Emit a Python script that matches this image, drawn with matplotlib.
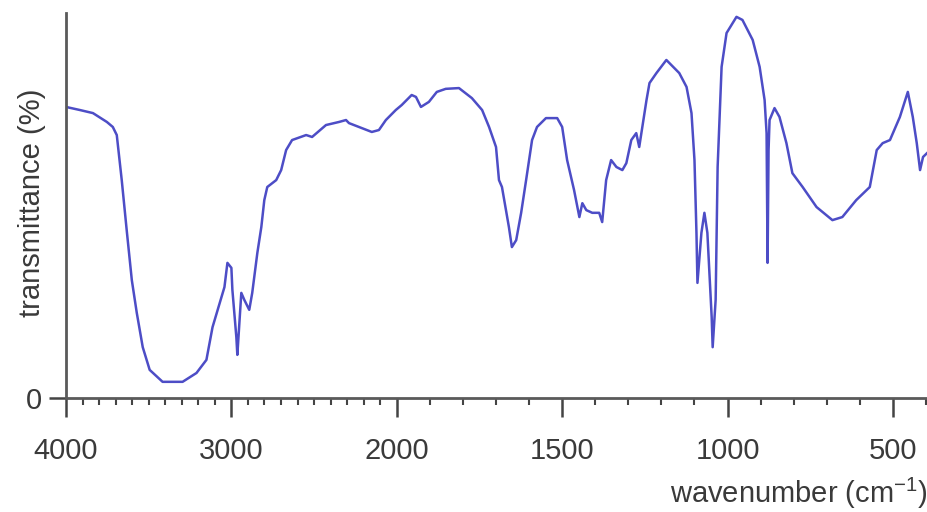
import matplotlib
matplotlib.use("Agg")
import matplotlib.pyplot as plt
import numpy as np
from matplotlib.ticker import FixedLocator, NullFormatter

plt.rcParams['font.family'] = ['Liberation Sans', 'DejaVu Sans']
plt.rcParams['mathtext.fontset'] = 'custom'
plt.rcParams['mathtext.rm'] = 'Liberation Sans'

# IR spectrum
wavenumber = [4000, 3916, 3837, 3753, 3717, 3693, 3663, 3633, 3602, 3572,
              3536, 3494, 3416, 3295, 3211, 3151, 3114, 3042, 3024, 3000,
              2994, 2970, 2964, 2940, 2922, 2892, 2874, 2843, 2819, 2801,
              2783, 2729, 2699, 2669, 2633, 2548, 2512, 2428, 2349, 2307,
              2289, 2229, 2151, 2108, 2066, 2006, 1985, 1955, 1942, 1927,
              1903, 1879, 1852, 1812, 1797, 1773, 1742, 1721, 1700, 1691,
              1682, 1661, 1652, 1639, 1624, 1609, 1591, 1576, 1549, 1515,
              1500, 1485, 1464, 1448, 1439, 1427, 1409, 1388, 1379, 1367,
              1352, 1336, 1318, 1306, 1291, 1276, 1267, 1245, 1236, 1215,
              1185, 1146, 1124, 1109, 1100, 1094, 1091, 1079, 1070, 1061,
              1048, 1045, 1036, 1030, 1018, 1003, 973, 955, 924, 903,
              888, 882, 879, 876, 873, 858, 843, 822, 804, 773,
              731, 683, 653, 611, 570, 549, 531, 509, 479, 455,
              440, 428, 418, 409, 397]
transmittance = [75.6, 74.8, 74.0, 71.7, 70.4, 68.3, 56.6, 43.6, 30.6, 22.1,
                 13.2, 7.3, 4.2, 4.2, 6.5, 9.9, 18.4, 28.8, 35.1, 33.8,
                 28.1, 15.8, 11.2, 27.3, 25.5, 22.9, 27.3, 37.7, 44.4, 51.4,
                 54.8, 56.6, 59.2, 64.4, 67.0, 68.3, 67.8, 70.9, 71.7, 72.2,
                 71.4, 70.4, 69.1, 69.6, 72.2, 74.8, 76.1, 78.7, 78.2, 75.6,
                 76.9, 79.5, 80.3, 80.5, 79.5, 77.9, 74.8, 70.4, 65.2, 56.6,
                 54.8, 44.4, 39.2, 41.0, 48.1, 56.6, 67.0, 70.4, 72.7, 72.7,
                 70.4, 61.8, 54.0, 47.0, 50.6, 48.8, 48.1, 48.1, 45.7, 56.6,
                 61.8, 60.0, 59.2, 61.0, 67.0, 68.8, 65.2, 77.4, 81.8, 84.4,
                 87.8, 84.4, 80.8, 74.0, 61.8, 42.9, 29.9, 42.9, 48.1, 42.9,
                 21.0, 13.2, 25.5, 60.0, 86.0, 94.8, 99.0, 98.2, 93.0, 86.0,
                 77.4, 68.8, 35.1, 64.4, 72.2, 75.3, 73.0, 66.2, 58.4, 54.8,
                 49.6, 46.2, 47.0, 51.4, 54.8, 64.4, 66.2, 67.0, 73.0, 79.5,
                 73.0, 66.2, 59.2, 62.6, 63.6]

major_ticks = [4000, 3000, 2000, 1500, 1000, 500]
major_labels = ["4000", "3000", "2000", "1500", "1000", "500"]


# scale is halved above 2000 cm-1, like on the spectrometer chart
def fwd(x):
    x = np.asarray(x, dtype=float)
    return np.where(x <= 2000, x, 2000 + (x - 2000) / 2)


def inv(u):
    u = np.asarray(u, dtype=float)
    return np.where(u <= 2000, u, 2000 + (u - 2000) * 2)


fig = plt.figure(figsize=(9.28, 5.12), dpi=100)
ax = fig.add_axes([66 / 928, 114 / 512, 862 / 928, 385 / 512])

ax.plot(wavenumber, transmittance, color='#4d4dc6', lw=1.8)

ax.set_xscale('function', functions=(fwd, inv))
ax.set_xlim(4000, 394)
ax.set_ylim(0, 100)

ax.xaxis.set_major_locator(FixedLocator(major_ticks))
ax.set_xticklabels(major_labels)
minors = [w for w in range(400, 4000, 100) if w not in major_ticks]
ax.xaxis.set_minor_locator(FixedLocator(minors))
ax.xaxis.set_minor_formatter(NullFormatter())
ax.set_yticks([0])
ax.set_yticklabels(["0"])

for s in ['top', 'right']:
    ax.spines[s].set_visible(False)
for s in ['left', 'bottom']:
    ax.spines[s].set_color('#5a5a5a')
    ax.spines[s].set_linewidth(2)

ax.tick_params(axis='x', which='major', length=14, width=1.8, color='#444444',
               labelsize=21, labelcolor='#3a3a3a', pad=14)
ax.tick_params(axis='x', which='minor', length=5, width=1.5, color='#444444')
ax.tick_params(axis='y', which='major', length=12, width=1.8, color='#444444',
               labelsize=21, labelcolor='#3a3a3a', pad=5)

ax.set_xlabel(r'wavenumber (cm$^{\mathregular{-1}}$)', fontsize=21,
              color='#3a3a3a', loc='right')
ax.xaxis.set_label_coords(1.0, -0.249)
ax.xaxis.label.set_va('center')

ax.set_ylabel('transmittance (%)', fontsize=21, color='#3a3a3a')
ax.yaxis.set_label_coords(-0.039, 0.506)
ax.yaxis.label.set_va('center')

fig.savefig('out.png', dpi=100)
